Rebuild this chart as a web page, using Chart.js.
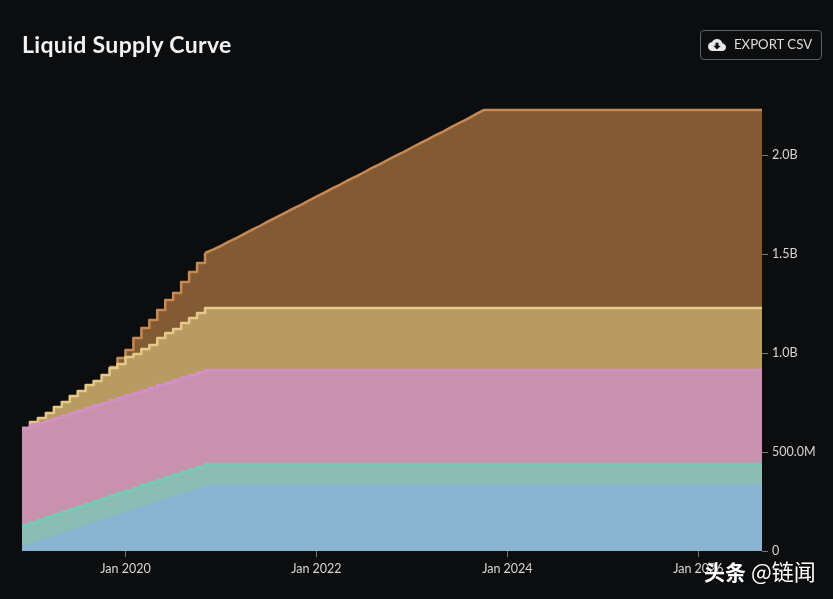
<!DOCTYPE html>
<html>
<head>
<meta charset="utf-8">
<title>Liquid Supply Curve</title>
<script src="https://cdn.jsdelivr.net/npm/chart.js@4"></script>
<style>
  html, body { margin: 0; padding: 0; background: #0c0d0f; }
  body { position: relative; width: 833px; height: 599px; overflow: hidden; font-family: Lato, sans-serif; }
  #chart { position: absolute; left: 0; top: 0; }
  h1 { position: absolute; left: 22px; top: 30px; margin: 0; color: #f2f2f2; font: 700 23px/28px Lato, sans-serif; letter-spacing: 0.33px; }
  .export-btn {
    position: absolute; left: 700px; top: 30px; width: 120px; height: 28px;
    border: 1px solid #5f6165; border-radius: 4px; color: #dcdcdc;
    font-size: 13.2px; line-height: 27px; box-sizing: content-box;
  }
  .export-btn svg { position: absolute; left: 7px; top: 5px; width: 18px; height: 18px; fill: #e8e8e8; }
  .export-btn span { position: absolute; left: 33px; white-space: nowrap; }
  .mark {
    position: absolute; left: 704px; top: 556px; color: #fff; white-space: nowrap;
    font: 400 22px/28px "Noto Sans CJK SC", sans-serif; text-shadow: 0 0 2px rgba(0,0,0,0.5);
  }
  .mark b { font-size: 21px; font-weight: 700; margin-right: 5px; }
</style>
</head>
<body>
<canvas id="chart" width="833" height="599"></canvas>
<h1>Liquid Supply Curve</h1>
<div class="export-btn">
  <svg viewBox="0 0 24 24"><path d="M19.35 10.04C18.67 6.59 15.64 4 12 4 9.11 4 6.6 5.64 5.35 8.04 2.34 8.36 0 10.91 0 14c0 3.31 2.69 6 6 6h13c2.76 0 5-2.24 5-5 0-2.64-2.05-4.78-4.65-4.96zM17 13l-5 5-5-5h3V9h4v4h3z"/></svg>
  <span>EXPORT CSV</span>
</div>
<div class="mark"><b>头条</b>@链闻</div>

<script>
// monthly, Dec 2018 to Sep 2026
const months = [
  "Dec 2018",
  "Jan 2019", "Feb 2019", "Mar 2019", "Apr 2019", "May 2019", "Jun 2019", "Jul 2019", "Aug 2019", "Sep 2019", "Oct 2019", "Nov 2019", "Dec 2019",
  "Jan 2020", "Feb 2020", "Mar 2020", "Apr 2020", "May 2020", "Jun 2020", "Jul 2020", "Aug 2020", "Sep 2020", "Oct 2020", "Nov 2020", "Dec 2020",
  "Jan 2021", "Feb 2021", "Mar 2021", "Apr 2021", "May 2021", "Jun 2021", "Jul 2021", "Aug 2021", "Sep 2021", "Oct 2021", "Nov 2021", "Dec 2021",
  "Jan 2022", "Feb 2022", "Mar 2022", "Apr 2022", "May 2022", "Jun 2022", "Jul 2022", "Aug 2022", "Sep 2022", "Oct 2022", "Nov 2022", "Dec 2022",
  "Jan 2023", "Feb 2023", "Mar 2023", "Apr 2023", "May 2023", "Jun 2023", "Jul 2023", "Aug 2023", "Sep 2023", "Oct 2023", "Nov 2023", "Dec 2023",
  "Jan 2024", "Feb 2024", "Mar 2024", "Apr 2024", "May 2024", "Jun 2024", "Jul 2024", "Aug 2024", "Sep 2024", "Oct 2024", "Nov 2024", "Dec 2024",
  "Jan 2025", "Feb 2025", "Mar 2025", "Apr 2025", "May 2025", "Jun 2025", "Jul 2025", "Aug 2025", "Sep 2025", "Oct 2025", "Nov 2025", "Dec 2025",
  "Jan 2026", "Feb 2026", "Mar 2026", "Apr 2026", "May 2026", "Jun 2026", "Jul 2026", "Aug 2026", "Sep 2026",
];
const xTickLabels = ["Jan 2020", "Jan 2022", "Jan 2024", "Jan 2026"];
const yTickValues = [0, 500, 1000, 1500, 2000];

const blueTop = [
  25, 38, 52, 65, 78, 92, 105, 118, 131, 145, 158, 171, 184, 197, 210, 224, 237, 250, 263, 276, 289, 302, 315, 328,
  328, 328, 328, 328, 328, 328, 328, 328, 328, 328, 328, 328, 328, 328, 328, 328, 328, 328, 328, 328, 328, 328, 328, 328,
  328, 328, 328, 328, 328, 328, 328, 328, 328, 328, 328, 328, 328, 328, 328, 328, 328, 328, 328, 328, 328, 328, 328,
  328, 328, 328, 328, 328, 328, 328, 328, 328, 328, 328, 328, 328, 328, 328, 328, 328, 328, 328, 328, 328, 328, 328,
];
const greenTop = [
  131, 144, 158, 172, 185, 199, 212, 226, 239, 253, 266, 280, 293, 306, 319, 334, 347, 360, 373, 386, 400, 413, 426, 439,
  439, 439, 439, 439, 439, 439, 439, 439, 439, 439, 439, 439, 439, 439, 439, 439, 439, 439, 439, 439, 439, 439, 439, 439,
  439, 439, 439, 439, 439, 439, 439, 439, 439, 439, 439, 439, 439, 439, 439, 439, 439, 439, 439, 439, 439, 439, 439,
  439, 439, 439, 439, 439, 439, 439, 439, 439, 439, 439, 439, 439, 439, 439, 439, 439, 439, 439, 439, 439, 439, 439,
];
const pinkTop = [
  621, 634, 646, 659, 672, 685, 697, 710, 723, 736, 748, 761, 774, 787, 799, 812, 825, 838, 850, 863, 876, 889, 901, 914,
  914, 914, 914, 914, 914, 914, 914, 914, 914, 914, 914, 914, 914, 914, 914, 914, 914, 914, 914, 914, 914, 914, 914, 914,
  914, 914, 914, 914, 914, 914, 914, 914, 914, 914, 914, 914, 914, 914, 914, 914, 914, 914, 914, 914, 914, 914, 914,
  914, 914, 914, 914, 914, 914, 914, 914, 914, 914, 914, 914, 914, 914, 914, 914, 914, 914, 914, 914, 914, 914, 914,
];
const yellowTop = [
  621, 651, 672, 697, 727, 753, 783, 808, 838, 859, 889, 924, 944, 980, 995, 1020, 1040, 1076, 1101, 1121, 1152, 1177, 1202, 1227,
  1227, 1227, 1227, 1227, 1227, 1227, 1227, 1227, 1227, 1227, 1227, 1227, 1227, 1227, 1227, 1227, 1227, 1227, 1227, 1227, 1227, 1227, 1227, 1227,
  1227, 1227, 1227, 1227, 1227, 1227, 1227, 1227, 1227, 1227, 1227, 1227, 1227, 1227, 1227, 1227, 1227, 1227, 1227, 1227, 1227, 1227, 1227,
  1227, 1227, 1227, 1227, 1227, 1227, 1227, 1227, 1227, 1227, 1227, 1227, 1227, 1227, 1227, 1227, 1227, 1227, 1227, 1227, 1227, 1227, 1227,
];
// the brown band splits in two: stair section up to Nov 2020, then a straight ramp
const brownStairs = [
  null, null, null, null, null, null, null, null, null, null, null,
  929, 975, 1015, 1076, 1126, 1167, 1217, 1268, 1303, 1359, 1409, 1455, 1505,
];
const brownRamp = [
  null, null, null, null, null, null, null, null, null, null, null, null, null, null, null, null, null, null, null, null, null, null, null,
  1505, 1522, 1541, 1563, 1582, 1603, 1624, 1644, 1666, 1686, 1707, 1728, 1747, 1769, 1790, 1810, 1831, 1851, 1873, 1892, 1913, 1935, 1954,
  1976, 1997, 2016, 2038, 2059, 2079, 2101, 2120, 2142, 2163, 2183, 2205, 2227,
  2227, 2227, 2227, 2227, 2227, 2227, 2227, 2227, 2227, 2227, 2227, 2227, 2227, 2227, 2227, 2227, 2227, 2227,
  2227, 2227, 2227, 2227, 2227, 2227, 2227, 2227, 2227, 2227, 2227, 2227, 2227, 2227, 2227, 2227, 2227,
];

function formatSupply(v) {
  if (v === 0) return "0";
  if (v < 1000) return v.toFixed(1) + "M";
  return (v / 1000).toFixed(1) + "B";
}

function band(data, fillColor, lineColor, target, stepped = true) {
  return {
    data,
    fill: target,
    backgroundColor: fillColor,
    borderColor: lineColor,
    borderWidth: 2.5,
    borderJoinStyle: "round",
    stepped,
    pointRadius: 0,
  };
}

const labelColor = "#d6d6d6";

new Chart(document.getElementById("chart"), {
  type: "line",
  data: {
    labels: months,
    datasets: [
      band(blueTop, "#8ab4d0", "#8ab4d4", "origin"),
      band(greenTop, "#8cbcb4", "#72cdb6", 0),
      band(pinkTop, "#c891ad", "#d491c8", 1),
      band(yellowTop, "#b89b63", "#e6c985", 2),
      band(brownStairs, "#825a33", "#c88a52", 3),
      band(brownRamp, "#825a33", "#c88a52", 3, false),
    ],
  },
  options: {
    responsive: false,
    animation: false,
    layout: { padding: { left: 22, top: 107.5, right: 0, bottom: 0 } },
    plugins: {
      legend: { display: false },
      tooltip: { enabled: false },
      filler: { drawTime: "beforeDatasetsDraw" },
    },
    scales: {
      x: {
        type: "category",
        offset: false,
        grid: { drawOnChartArea: false, drawTicks: true, tickLength: 6, color: "#777" },
        border: { display: false },
        afterBuildTicks: scale => {
          scale.ticks = scale.ticks.filter(t => xTickLabels.includes(months[t.value]));
        },
        afterFit: scale => { scale.height = 48; },
        ticks: {
          autoSkip: false,
          maxRotation: 0,
          color: labelColor,
          padding: 4,
          font: { family: "Lato", size: 12.5 },
          callback: v => months[v],
        },
      },
      y: {
        position: "right",
        min: 0,
        max: 2240,
        grid: { drawOnChartArea: false, drawTicks: true, tickLength: 6, color: "#777" },
        border: { display: false },
        afterBuildTicks: scale => {
          scale.ticks = yTickValues.map(value => ({ value }));
        },
        afterFit: scale => { scale.width = 71; },
        ticks: {
          color: labelColor,
          padding: 4,
          font: { family: "Lato", size: 12.5 },
          callback: v => formatSupply(v),
        },
      },
    },
  },
});
</script>
</body>
</html>
